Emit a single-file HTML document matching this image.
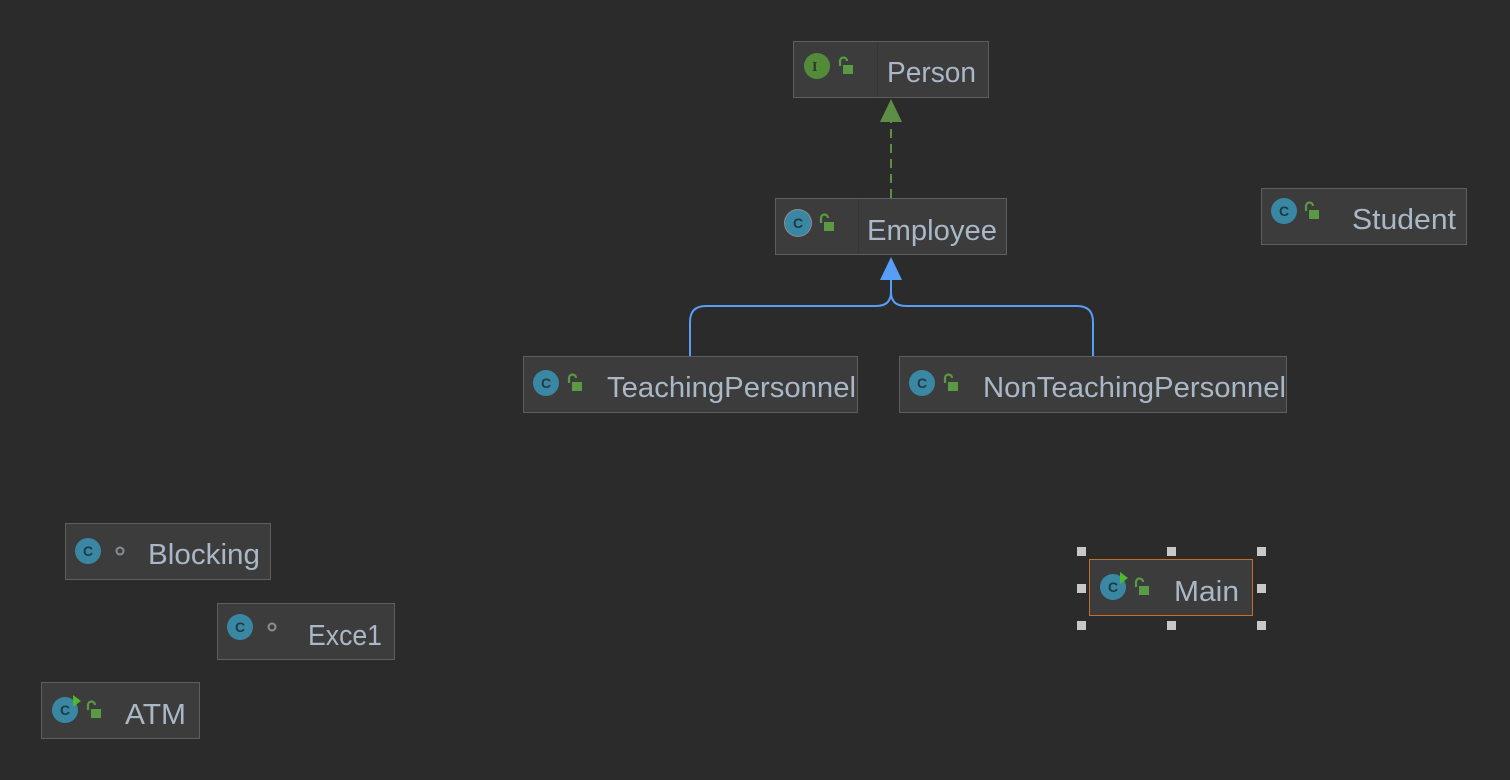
<!DOCTYPE html>
<html><head><meta charset="utf-8"><style>
html,body{margin:0;padding:0;background:#2b2b2b;width:1510px;height:780px;overflow:hidden}
text{font-family:"Liberation Sans","DejaVu Sans",sans-serif;font-size:29px;fill:#a9b7c6}
.ic{font-family:"Liberation Sans",sans-serif;font-size:14px;font-weight:bold;fill:#1f3a45}
</style></head><body>
<svg width="1510" height="780" viewBox="0 0 1510 780" xmlns="http://www.w3.org/2000/svg">
<defs>
<g id="lock"><path d="M0 0 v-5 a3.5 3.5 0 0 1 7 0" fill="none" stroke="#5a9a44" stroke-width="2.2"/><rect x="3" y="-1" width="10" height="9" fill="#5a9a44"/></g>
<g id="cls"><circle r="13" fill="#3a87a3"/><text class="ic" x="-5" y="5" style="fill:#1f3a45">C</text></g>
</defs>
<line x1="891" y1="198" x2="891" y2="121" stroke="#5c8e45" stroke-width="2" stroke-dasharray="9,6"/>
<polygon points="880,122 891,99 902,122" fill="#5c8e45"/>
<path d="M690 356 V322 Q690 306 706 306 H876 Q891 306 891 292 V278" fill="none" stroke="#589df6" stroke-width="2"/>
<path d="M1093 356 V322 Q1093 306 1077 306 H906 Q891 306 891 292" fill="none" stroke="#589df6" stroke-width="2"/>
<polygon points="880,280 891,257 902,280" fill="#589df6"/>

<rect x="793.5" y="41.5" width="195" height="56" fill="#3c3c3c" stroke="#5e5e5e"/>
<line x1="877.5" y1="42" x2="877.5" y2="97" stroke="#353535"/>
<circle cx="817" cy="66" r="13" fill="#548b3a"/><text class="ic" x="812" y="71" style="fill:#2b3a22;font-family:'Liberation Serif',serif">I</text>
<use href="#lock" x="840" y="66"/>
<text x="887" y="82" textLength="89" lengthAdjust="spacingAndGlyphs">Person</text>

<rect x="775.5" y="198.5" width="231" height="56" fill="#3c3c3c" stroke="#5e5e5e"/>
<line x1="858.5" y1="199" x2="858.5" y2="254" stroke="#353535"/>
<circle cx="798" cy="223" r="14" fill="#8a8f93"/><use href="#cls" x="798" y="223"/>
<use href="#lock" x="821" y="223"/>
<text x="867" y="240" textLength="130" lengthAdjust="spacingAndGlyphs">Employee</text>

<rect x="1261.5" y="188.5" width="205" height="56" fill="#3c3c3c" stroke="#5e5e5e"/>
<use href="#cls" x="1284" y="211"/>
<use href="#lock" x="1306" y="211"/>
<text x="1352" y="229" textLength="104" lengthAdjust="spacingAndGlyphs">Student</text>

<rect x="523.5" y="356.5" width="334" height="56" fill="#3c3c3c" stroke="#5e5e5e"/>
<use href="#cls" x="546" y="383"/>
<use href="#lock" x="569" y="383"/>
<text x="607" y="397" textLength="249" lengthAdjust="spacingAndGlyphs">TeachingPersonnel</text>

<rect x="899.5" y="356.5" width="387" height="56" fill="#3c3c3c" stroke="#5e5e5e"/>
<use href="#cls" x="922" y="383"/>
<use href="#lock" x="945" y="383"/>
<text x="983" y="397" textLength="303" lengthAdjust="spacingAndGlyphs">NonTeachingPersonnel</text>

<rect x="65.5" y="523.5" width="205" height="56" fill="#3c3c3c" stroke="#5e5e5e"/>
<use href="#cls" x="88" y="551"/>
<circle cx="120" cy="551" r="3.5" fill="none" stroke="#8a8f93" stroke-width="2"/>
<text x="148" y="564" textLength="112" lengthAdjust="spacingAndGlyphs">Blocking</text>

<rect x="217.5" y="603.5" width="177" height="56" fill="#3c3c3c" stroke="#5e5e5e"/>
<use href="#cls" x="240" y="627"/>
<circle cx="272" cy="627" r="3.5" fill="none" stroke="#8a8f93" stroke-width="2"/>
<text x="308" y="645" textLength="74" lengthAdjust="spacingAndGlyphs">Exce1</text>

<rect x="41.5" y="682.5" width="158" height="56" fill="#3c3c3c" stroke="#5e5e5e"/>
<use href="#cls" x="65" y="710"/>
<polygon points="73,695 81,701 73,707" fill="#4fb82f"/>
<use href="#lock" x="88" y="710"/>
<text x="125" y="724" textLength="61" lengthAdjust="spacingAndGlyphs">ATM</text>

<rect x="1089.5" y="559.5" width="163" height="56" fill="#3c3c3c" stroke="#c0702a"/>
<use href="#cls" x="1113" y="587"/>
<polygon points="1120,572 1128,578 1120,584" fill="#4fb82f"/>
<use href="#lock" x="1136" y="587"/>
<text x="1174" y="601" textLength="65" lengthAdjust="spacingAndGlyphs">Main</text>
<g fill="#c8c8c8">
<rect x="1077" y="547" width="9" height="9"/><rect x="1167" y="547" width="9" height="9"/><rect x="1257" y="547" width="9" height="9"/>
<rect x="1077" y="584" width="9" height="9"/><rect x="1257" y="584" width="9" height="9"/>
<rect x="1077" y="621" width="9" height="9"/><rect x="1167" y="621" width="9" height="9"/><rect x="1257" y="621" width="9" height="9"/>
</g>
</svg>
</body></html>
